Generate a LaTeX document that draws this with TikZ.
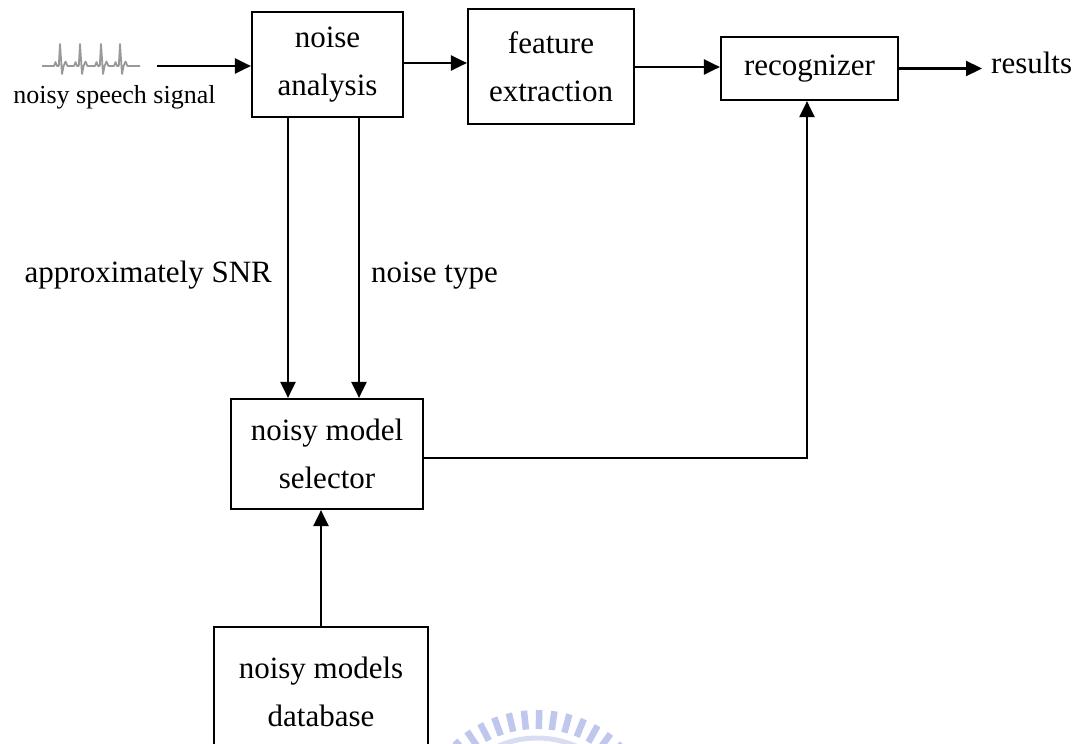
\documentclass[tikz,border=0pt]{standalone}
\usepackage{fontspec}
\setmainfont{Liberation Serif}
\usetikzlibrary{arrows.meta}
\definecolor{emblem}{RGB}{192,199,236}

\begin{document}
\begin{tikzpicture}[x=1pt,y=-1pt,
  blk/.style={draw, line width=2.2pt, inner sep=0pt, align=center,
              font=\fontsize{31}{48}\selectfont},
  lbl/.style={inner sep=0pt, font=\fontsize{31}{48}\selectfont},
  flow/.style={line width=2.2pt, -{Triangle[length=16pt,width=15pt]}},
  wave/.style={gray!80, line width=1.8pt, line join=round}]
\useasboundingbox (0,0) rectangle (1080,744);
\clip (0,0) rectangle (1080,744);

% faint emblem at the foot of the page
\foreach \a in {40,47,...,140}
  \draw[emblem, line width=6.5pt]
    ({537+106*cos(\a)},{835-106*sin(\a)}) -- ({537+125*cos(\a)},{835-125*sin(\a)});
\draw[emblem!60, line width=5pt] ({537+97*cos(135)},{835-97*sin(135)}) arc[start angle=-135, end angle=-45, radius=97];

% processing blocks
\node[blk, minimum width=151pt, minimum height=105pt] (na)  at (327.5,64.5) {noise\\analysis};
\node[blk, minimum width=166pt, minimum height=115pt] (fe)  at (551,66.5)   {feature\\extraction};
\node[blk, minimum width=177pt, minimum height=63pt]  (rec) at (809.5,68.5) {recognizer};
\node[blk, minimum width=192pt, minimum height=110pt] (sel) at (327,454)    {noisy model\\selector};
\node[blk, minimum width=214pt, minimum height=130pt] (db)  at (321,692)    {noisy models\\database};

% free labels
\node[lbl, anchor=base east] (snr) at (272,282) {approximately SNR};
\node[lbl, anchor=base west] (nt)  at (371,282) {noise type};
\node[lbl, anchor=base west] (res) at (991,73)  {results};
\node[inner sep=0pt, anchor=base, font=\fontsize{26}{30}\selectfont] (sigtxt) at (114.5,103) {noisy speech signal};

% input waveform
\draw[wave] (42,66)
  \foreach \c in {60,80,101,120} {
    -- (\c-6,66) -- (\c-4.5,62) -- (\c-3,66) -- (\c-1.2,66) -- (\c,44)
    -- (\c+2,74) -- (\c+3.6,66) -- (\c+5.5,61.5) -- (\c+7.5,66)
  } -- (140,66);
\coordinate (sig) at (157,66);

% signal flow
\draw[flow] (sig) -- (sig -| na.west);
\draw[flow] ([yshift=1.5pt]na.east) -- ([yshift=1.5pt]na.east -| fe.west);
\draw[flow] ([yshift=-0.5pt]fe.east) -- ([yshift=-0.5pt]fe.east -| rec.west);
\draw[flow] (rec.east) -- ([xshift=-9pt]res.west |- rec.east);
\draw[flow] ([xshift=-39.5pt]na.south) -- ([xshift=-39.5pt]na.south |- sel.north);
\draw[flow] ([xshift=31.5pt]na.south) -- ([xshift=31.5pt]na.south |- sel.north);
\draw[flow] ([yshift=-4pt]sel.east) -| ([xshift=-2.5pt]rec.south);
\draw[flow] (db.north) -- (db.north |- sel.south);
\end{tikzpicture}
\end{document}
